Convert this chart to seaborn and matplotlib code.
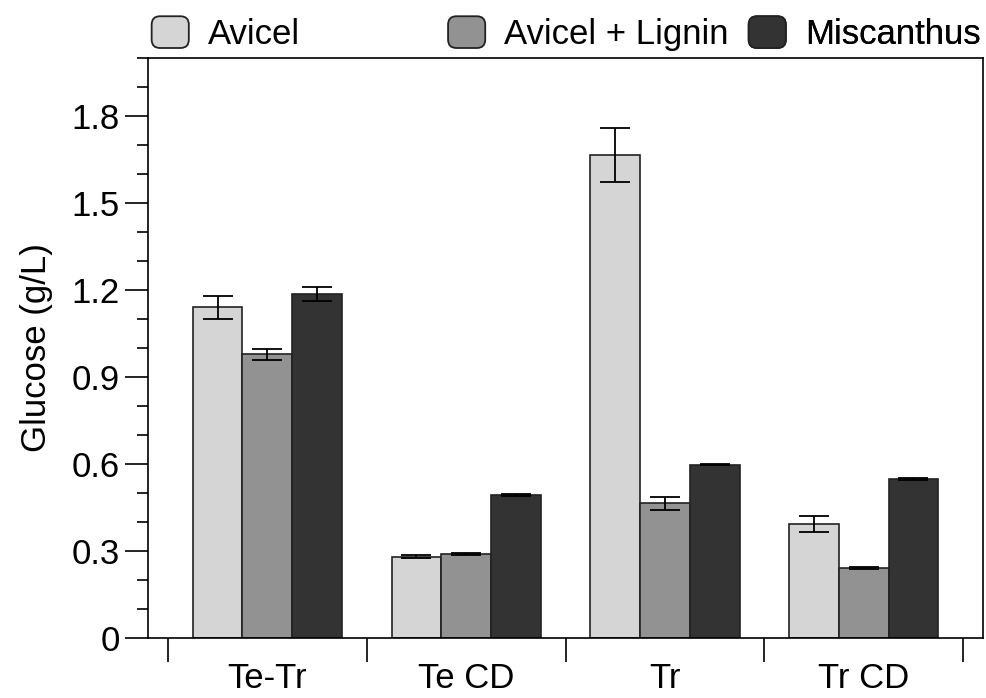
#!/usr/bin/env python3
"""
Grouped bar chart of glucose release (g/L) per enzyme mix and substrate.
"""
import numpy as np
import pandas as pd
import seaborn as sns
import matplotlib.pyplot as plt
from matplotlib.patches import Patch, FancyBboxPatch
from matplotlib.legend_handler import HandlerPatch
from matplotlib.ticker import MultipleLocator, FixedLocator, FuncFormatter

groups = ["Te-Tr", "Te CD", "Tr", "Tr CD"]
substrates = ["Avicel", "Avicel + Lignin", "Miscanthus"]

avicel = [1.140, 0.280, 1.665, 0.394]
avicel_lignin = [0.978, 0.289, 0.464, 0.242]
miscanthus = [1.185, 0.492, 0.598, 0.549]

avicel_err = [0.040, 0.005, 0.093, 0.028]
avicel_lignin_err = [0.019, 0.004, 0.022, 0.004]
miscanthus_err = [0.024, 0.003, 0.003, 0.004]

colors = ["#d5d5d5", "#929292", "#333333"]
FS = 25

sns.set_theme(style="ticks")
plt.rcParams["font.family"] = ["Liberation Sans", "DejaVu Sans"]
plt.rcParams["axes.linewidth"] = 1.2
plt.rcParams["text.color"] = "black"
plt.rcParams["axes.labelcolor"] = "black"
plt.rcParams["xtick.color"] = "black"
plt.rcParams["ytick.color"] = "black"

values = [avicel, avicel_lignin, miscanthus]
errors = [avicel_err, avicel_lignin_err, miscanthus_err]
df = pd.DataFrame({
    "group": np.tile(groups, len(substrates)),
    "substrate": np.repeat(substrates, len(groups)),
    "glucose": np.concatenate(values),
})

fig = plt.figure(figsize=(9.87, 6.98), dpi=100)
ax = fig.add_axes([0.150, 0.086, 0.846, 0.831])

sns.barplot(data=df, x="group", y="glucose", hue="substrate", order=groups,
            hue_order=substrates, palette=colors, width=0.75, gap=0,
            errorbar=None, edgecolor="#222222", linewidth=1.2, saturation=1,
            legend=False, ax=ax)

# error bars at the bar centres seaborn produced
for cont, err in zip(ax.containers, errors):
    xs = [b.get_x() + b.get_width() / 2 for b in cont]
    ys = [b.get_height() for b in cont]
    ax.errorbar(xs, ys, yerr=err, fmt="none", ecolor="black",
                elinewidth=1.3, capsize=11, capthick=1.3, zorder=5)

ax.set_xlim(-0.6, 3.6)
ax.set_ylim(0, 2.0)
ax.yaxis.set_major_locator(FixedLocator([0, 0.3, 0.6, 0.9, 1.2, 1.5, 1.8]))
ax.yaxis.set_minor_locator(MultipleLocator(0.1))
ax.yaxis.set_major_formatter(FuncFormatter(lambda v, p: "0" if v == 0 else f"{v:.1f}"))
ax.xaxis.set_minor_locator(FixedLocator([-0.5, 0.5, 1.5, 2.5, 3.5]))

ax.tick_params(axis="y", which="major", length=16.5, width=1.2, labelsize=FS,
               pad=4, direction="out")
ax.tick_params(axis="y", which="minor", length=8, width=1.2, direction="out")
ax.tick_params(axis="x", which="major", length=0, labelsize=FS, pad=17)
ax.tick_params(axis="x", which="minor", length=17, width=1.2, direction="out")

ax.set_xlabel("")
ax.set_ylabel("Glucose (g/L)", fontsize=FS, labelpad=13)
for s in ax.spines.values():
    s.set_visible(True)
    s.set_color("black")


def rounded_handle(legend, orig_handle, xdescent, ydescent, width, height, fontsize):
    return FancyBboxPatch((-xdescent, -ydescent), width, height,
                          boxstyle="round,pad=0,rounding_size=6")


handler = HandlerPatch(patch_func=rounded_handle)
positions = [-0.004, 0.351, 0.711]
for name, col, xpos in zip(substrates, colors, positions):
    h = Patch(facecolor=col, edgecolor="#222222", linewidth=1.3, label=name)
    leg = ax.legend(handles=[h], loc="lower left", bbox_to_anchor=(xpos, 1.0),
                    frameon=False, fontsize=FS, borderpad=0, borderaxespad=0.2,
                    handlelength=1.07, handleheight=1.03, handletextpad=0.55,
                    handler_map={Patch: handler})
    ax.add_artist(leg)

fig.savefig("out.png", dpi=100)
